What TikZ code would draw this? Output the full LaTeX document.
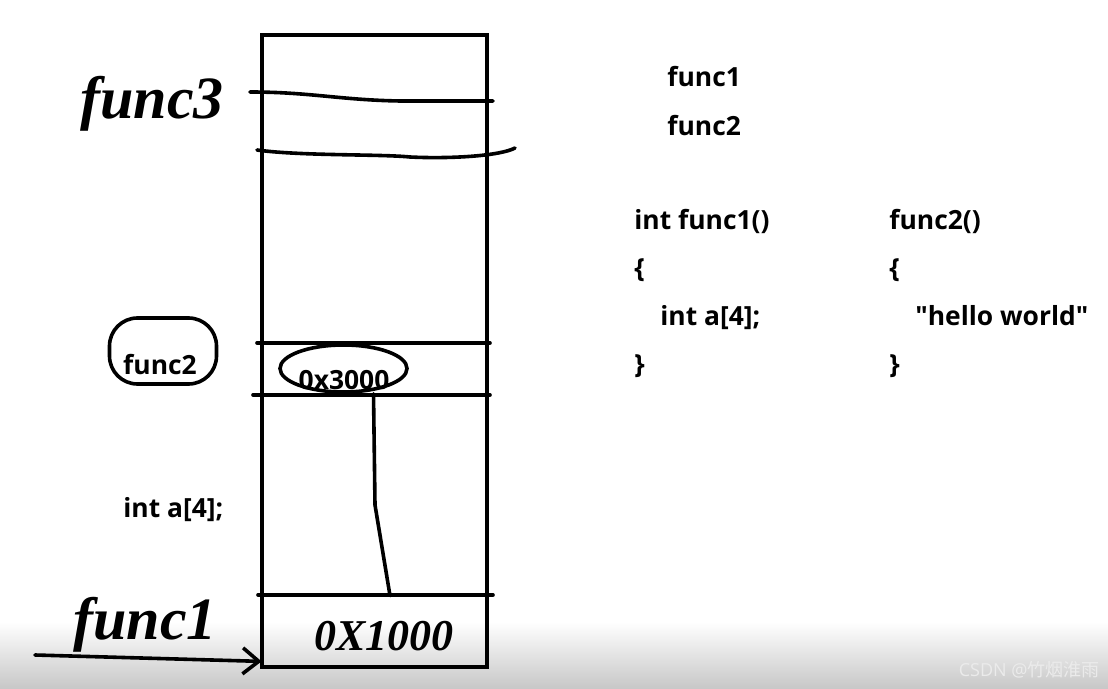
\documentclass[tikz,border=0pt]{standalone}
\usepackage{fontspec}
\setmainfont{Open Sans}
\newfontfamily\codefont{Open Sans}
\newfontfamily\cjkfont{Noto Sans CJK SC}
\newfontfamily\handfont{Liberation Serif}
\usetikzlibrary{positioning, arrows.meta, shapes.geometric, calc}
\tikzset{
  code/.style={font=\codefont\bfseries\fontsize{13.2}{16}\selectfont, anchor=base west, inner sep=0pt},
  hand/.style={font=\handfont\bfseries\itshape\fontsize{30}{34}\selectfont, inner sep=0pt},
  pen/.style={line width=1.8pt, line cap=round, line join=round},
  ring/.style={ellipse, draw, line width=1.8pt, inner sep=0pt},
  slot/.style={minimum width=112.5pt, inner sep=0pt}
}

\begin{document}
\begin{tikzpicture}[x=0.5pt, y=-0.5pt]
  \useasboundingbox (0,0) rectangle (1108,689);
  % shadow of the player bar
  \shade[top color=white, bottom color=black!22] (0,622) rectangle (1108,689);

  % the stack
  \node[draw, line width=2.2pt, minimum width=112.5pt, minimum height=316pt, inner sep=0pt] (stack) at (374.5,351) {};
  \draw[pen] (250,92) .. controls (310,92) and (340,100) .. (400,101) -- (493,101);
  \draw[pen] (257,150) .. controls (300,156) and (380,154) .. (410,157) .. controls (450,159) and (500,156) .. (515,148);
  \draw[pen] (257,343) -- (490,343);
  \draw[pen] (253,395) -- (490,395);
  \draw[pen] (258,595) -- (493,595);

  % frames
  \node[draw, pen, rounded corners=14pt, minimum width=53.5pt, minimum height=33pt] (f2ring) at (163,351) {};
  \node[code, anchor=center] (f2lbl) at (160,365) {func2};
  \node[ring, minimum width=63.5pt, minimum height=23.5pt] (ptr) at (343.5,368.5) {};
  \node[code, anchor=center] (ptrval) at (344,380) {0x3000};
  \node[slot, minimum height=35.5pt] (slot1) at (374.5,631.5) {};
  \node[code] (arr) at (123,517) {int a[4];};

  % handwriting
  \node[hand] (f3) at (152,104) {func3};
  \node[hand] (f1) at (145,625) {func1};
  \node[hand, font=\handfont\bfseries\itshape\fontsize{22}{26}\selectfont] (addrtxt) at (384,636) {0X1000};

  \draw[pen] ([xshift=15pt]ptr.south) -- (375,505) -- ([xshift=7.75pt]slot1.north);
  \coordinate (start) at (35,655);
  \draw[pen, -{Straight Barb[length=8pt,width=13pt]}] (start) -- ([yshift=3pt]slot1.south west);

  % source text
  \node[code] (h1) at (667,87) {func1};
  \node[code] (h2) at (667,136) {func2};
  \node[code] (a1) at (634,230) {int func1()};
  \node[code] (a2) at (634,278) {\{};
  \node[code] (a3) at (660,326) {int a[4];};
  \node[code] (a4) at (634,374) {\}};
  \node[code] (b1) at (889,230) {func2()};
  \node[code] (b2) at (889,278) {\{};
  \node[code] (b3) at (915,326) {"hello world"};
  \node[code] (b4) at (889,374) {\}};

  \node[anchor=base east, inner sep=0pt, text=white!92!black, font=\fontsize{9}{11}\selectfont] (mark) at (1100,676) {CSDN @{\cjkfont 竹烟淮雨}};
\end{tikzpicture}
\end{document}
